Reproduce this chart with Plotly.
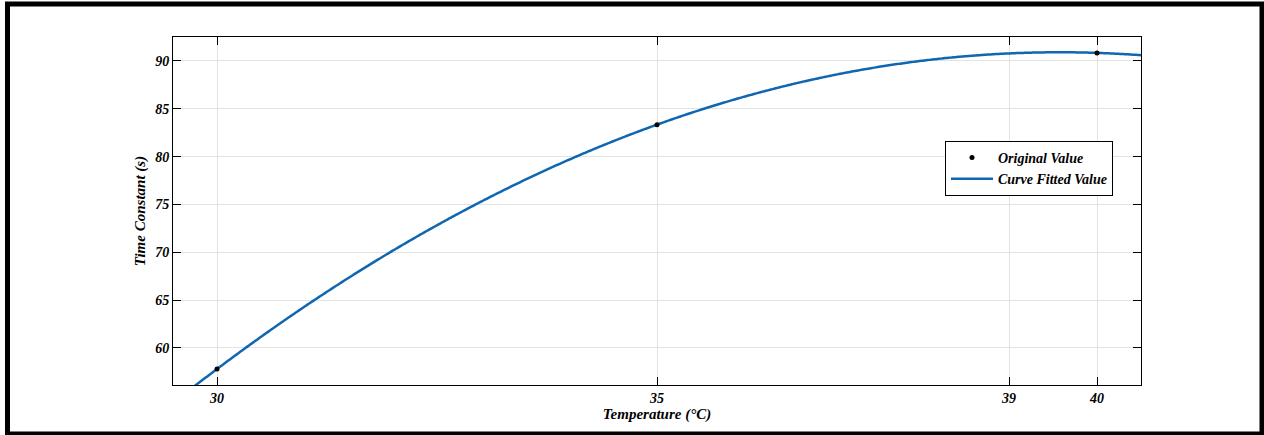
import numpy as np
import plotly.graph_objects as go

# Measured time constants at each temperature
temperature = [30, 35, 40]
time_constant = [57.8, 83.34, 90.84]

# Axis ticks
x_ticks = [30, 35, 39, 40]
y_ticks = [60, 65, 70, 75, 80, 85, 90]

# Second-order polynomial fit of the measurements
coef = np.polyfit(temperature, time_constant, 2)
x_fit = np.linspace(29.5, 40.5, 600)
y_fit = np.polyval(coef, x_fit)

W, H = 1264, 435
L, R, T, B = 173, 123, 37, 50
PW, PH = W - L - R, H - T - B

def px_x(px):
    return (px - L) / PW

def px_y(py):
    return (H - B - py) / PH

FONT = "Liberation Serif, Times New Roman, serif"
BLUE = "#0f67b2"

fig = go.Figure()
fig.add_trace(go.Scatter(
    x=x_fit, y=y_fit, mode="lines", name="<b><i>Curve Fitted Value</i></b>",
    line=dict(color=BLUE, width=2.5, simplify=False),
))
fig.add_trace(go.Scatter(
    x=temperature, y=time_constant, mode="markers", name="<b><i>Original Value</i></b>",
    marker=dict(color="black", size=5),
))

axis_common = dict(
    showline=True, linecolor="black", linewidth=1, mirror="ticks",
    ticks="inside", ticklen=8, tickcolor="black", tickwidth=1,
    showgrid=True, gridcolor="#e3e3e3", gridwidth=1, zeroline=False,
    tickfont=dict(family=FONT, size=14, color="black"),
)

fig.update_layout(
    width=W, height=H,
    margin=dict(l=L, r=R, t=T, b=B),
    paper_bgcolor="white", plot_bgcolor="white",
    showlegend=True,
    legend=dict(
        x=px_x(945), y=px_y(141), xanchor="left", yanchor="top",
        bgcolor="white", bordercolor="black", borderwidth=1,
        font=dict(family=FONT, size=14, color="black"),
        traceorder="reversed", tracegroupgap=0, itemwidth=42,
    ),
    xaxis=dict(
        range=[29.5, 40.5], tickvals=x_ticks,
        ticktext=[f"<b><i>{v}</i></b>" for v in x_ticks],
        title=dict(text="<b><i>Temperature (°C)</i></b>",
                   font=dict(family=FONT, size=15, color="black"), standoff=2),
        **axis_common,
    ),
    yaxis=dict(
        range=[56.13, 92.5], tickvals=y_ticks,
        ticktext=[f"<b><i>{v}</i></b>" for v in y_ticks],
        title=dict(text="<b><i>Time Constant (s)</i></b>",
                   font=dict(family=FONT, size=15, color="black"), standoff=5),
        **axis_common,
    ),
    shapes=[dict(
        type="rect", xref="paper", yref="paper",
        x0=px_x(7.5), x1=px_x(1262), y0=px_y(434), y1=px_y(4),
        line=dict(color="black", width=5), fillcolor="rgba(0,0,0,0)", layer="above",
    )],
)

fig.write_html("out.html")
